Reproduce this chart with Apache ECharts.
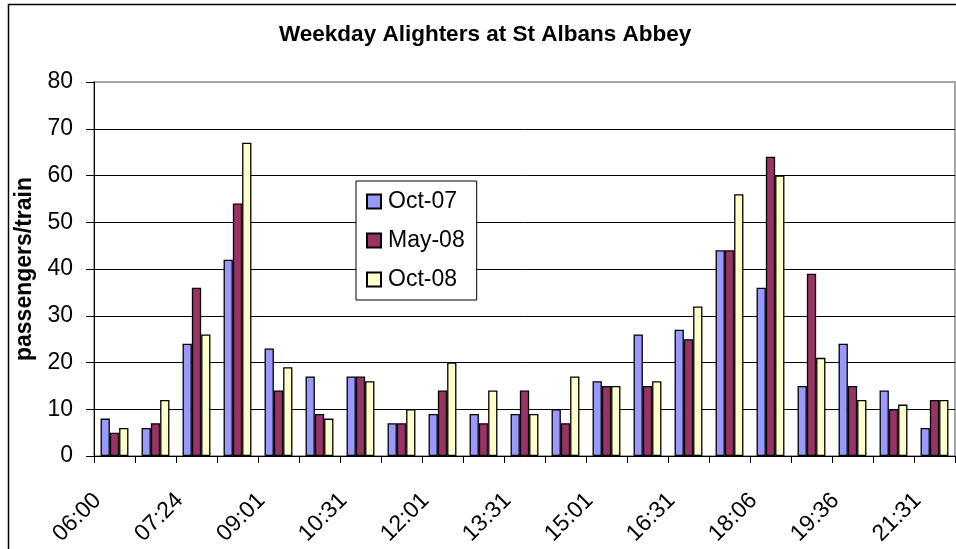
<!DOCTYPE html>
<html>
<head>
<meta charset="utf-8">
<title>Weekday Alighters at St Albans Abbey</title>
<script src="https://cdn.jsdelivr.net/npm/echarts@6/dist/echarts.min.js"></script>
<style>
  html, body { margin: 0; padding: 0; background: #fff; }
  #chart { width: 956px; height: 549px; }
</style>
</head>
<body>
<div id="chart"></div>
<script>
// 时刻 (every other label is shown on the axis)
const times = ['06:00', '06:42', '07:24', '08:12', '09:01', '09:46', '10:31', '11:16', '12:01', '12:46', '13:31',
  '14:16', '15:01', '15:46', '16:31', '17:16', '18:06', '18:51', '19:36', '20:31', '21:31']
const oct07 = [8, 6, 24, 42, 23, 17, 17, 7, 9, 9, 9, 10, 16, 26, 27, 44, 36, 15, 24, 14, 6]
const may08 = [5, 7, 36, 54, 14, 9, 17, 7, 14, 7, 14, 7, 15, 15, 25, 44, 64, 39, 15, 10, 12]
const oct08 = [6, 12, 26, 67, 19, 8, 16, 10, 20, 14, 9, 17, 15, 16, 32, 56, 60, 21, 12, 11, 12]
const yTicks = { min: 0, max: 80, interval: 10 }

const font = 'Liberation Sans, Arial, sans-serif'

function bar(name, data, color) {
  return {
    name: name,
    type: 'bar',
    data: data,
    barGap: '0%',
    barCategoryGap: '32%',
    itemStyle: { color: color, borderColor: '#000', borderWidth: 1.3 }
  }
}

const chart = echarts.init(document.getElementById('chart'))
chart.setOption({
  animation: false,
  backgroundColor: '#fff',
  textStyle: { fontFamily: font },
  title: {
    text: 'Weekday Alighters at St Albans Abbey',
    left: 279,
    top: 23,
    padding: 0,
    textStyle: { fontSize: 22.5, fontWeight: 'bold', color: '#000', fontFamily: font }
  },
  // 外框
  graphic: [{
    type: 'rect',
    shape: { x: 8.5, y: 4.5, width: 1000, height: 600 },
    style: { fill: 'none', stroke: '#000', lineWidth: 1.5 },
    silent: true,
    z: 100
  }],
  legend: {
    orient: 'vertical',
    left: 356,
    top: 181,
    padding: [9, 12, 9, 10],
    itemGap: 16,
    itemWidth: 14,
    itemHeight: 14,
    icon: 'rect',
    backgroundColor: '#fff',
    borderColor: '#000',
    borderWidth: 1,
    textStyle: { fontSize: 23, color: '#000', fontFamily: font, padding: [0, 0, 0, 2] },
    data: ['Oct-07', 'May-08', 'Oct-08']
  },
  grid: {
    left: 94,
    top: 82,
    right: 1,
    bottom: 93,
    show: true,
    borderColor: '#888',
    borderWidth: 1.5
  },
  xAxis: {
    type: 'category',
    data: times,
    boundaryGap: true,
    axisLine: { lineStyle: { color: '#000', width: 1 } },
    axisTick: { show: true, interval: 0, length: 7, lineStyle: { color: '#000' } },
    axisLabel: {
      interval: 1,
      rotate: 45,
      margin: 24,
      padding: [0, 24, 0, 0],
      fontSize: 23,
      color: '#000',
      fontFamily: font
    }
  },
  yAxis: {
    type: 'value',
    min: yTicks.min,
    max: yTicks.max,
    interval: yTicks.interval,
    name: 'passengers/train',
    nameLocation: 'middle',
    nameGap: 51,
    nameTextStyle: { fontSize: 23, fontWeight: 'bold', color: '#000', fontFamily: font },
    axisLine: { show: true, lineStyle: { color: '#000', width: 1 } },
    axisTick: { show: true, length: 8, lineStyle: { color: '#000' } },
    axisLabel: { margin: 21, fontSize: 23, color: '#000', fontFamily: font },
    splitLine: { show: true, showMinLine: false, showMaxLine: false, lineStyle: { color: '#000', width: 1 } }
  },
  series: [
    bar('Oct-07', oct07, '#9999FF'),
    bar('May-08', may08, '#993366'),
    bar('Oct-08', oct08, '#FFFFCC')
  ]
})
</script>
</body>
</html>
